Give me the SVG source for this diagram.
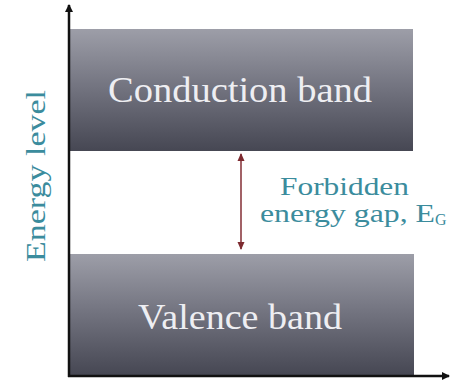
<svg xmlns="http://www.w3.org/2000/svg" width="450" height="381" viewBox="0 0 450 381">
<defs>
<linearGradient id="band" x1="0" y1="0" x2="0" y2="1">
<stop offset="0" stop-color="#9d9ea8"/>
<stop offset="0.45" stop-color="#757682"/>
<stop offset="1" stop-color="#464753"/>
</linearGradient>
<marker id="ax" markerWidth="8" markerHeight="8" refX="7" refY="4" orient="auto" markerUnits="userSpaceOnUse">
<path d="M0,0 L8,4 L0,8 z" fill="#111"/>
</marker>
<marker id="gap" markerWidth="8" markerHeight="8" refX="7" refY="4" orient="auto-start-reverse" markerUnits="userSpaceOnUse">
<path d="M0,0.5 L8,4 L0,7.5 z" fill="#7d2a30"/>
</marker>
<style>
.bandtxt{font-family:"Liberation Serif",serif;font-size:36px;fill:#eeeef2}
.lbl{font-family:"Liberation Serif",serif;fill:#3b8c9d}
</style>
</defs>
<rect width="450" height="381" fill="#fff"/>
<g id="conduction">
<rect x="70" y="29" width="343" height="122" fill="url(#band)"/>
<text class="bandtxt" x="108" y="102" textLength="264" lengthAdjust="spacingAndGlyphs">Conduction band</text>
</g>
<g id="valence">
<rect x="70" y="254" width="344" height="121" fill="url(#band)"/>
<text class="bandtxt" x="138" y="329" textLength="204" lengthAdjust="spacingAndGlyphs">Valence band</text>
</g>
<g id="gaplabel">
<text class="lbl" font-size="26" x="280" y="195" textLength="129" lengthAdjust="spacingAndGlyphs">Forbidden</text>
<text class="lbl" font-size="26" x="260" y="222"><tspan textLength="175" lengthAdjust="spacingAndGlyphs">energy gap, E</tspan><tspan font-size="16" dy="3">G</tspan></text>
</g>
<g id="ylabel">
<text class="lbl" font-size="27" fill="#4aa0b2" transform="translate(45,262) rotate(-90)" textLength="172" lengthAdjust="spacingAndGlyphs">Energy level</text>
</g>
<g id="connectors">
<line x1="69" y1="377" x2="69" y2="5" stroke="#111" stroke-width="2.5" marker-end="url(#ax)"/>
<line x1="68" y1="376" x2="449" y2="376" stroke="#111" stroke-width="2.5" marker-end="url(#ax)"/>
<line x1="241" y1="154" x2="241" y2="249" stroke="#8b3a40" stroke-width="1.6" marker-start="url(#gap)" marker-end="url(#gap)"/>
</g>
</svg>
